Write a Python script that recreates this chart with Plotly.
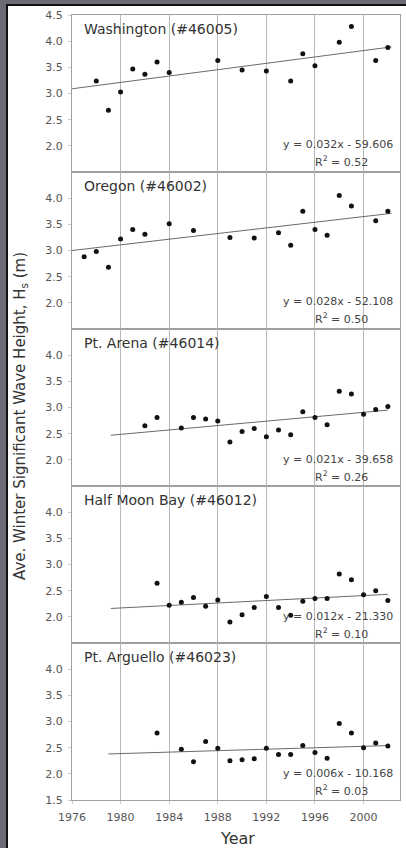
import plotly.graph_objects as go
from plotly.subplots import make_subplots

# ---------------- data ----------------
station_names = ["Washington (#46005)", "Oregon (#46002)", "Pt. Arena (#46014)",
                 "Half Moon Bay (#46012)", "Pt. Arguello (#46023)"]

wa_years = [1978, 1979, 1980, 1981, 1982, 1983, 1984, 1988, 1990, 1992, 1994, 1995, 1996, 1998, 1999, 2001, 2002]
wa_hs = [3.24, 2.68, 3.03, 3.47, 3.37, 3.60, 3.40, 3.63, 3.45, 3.43, 3.24, 3.76, 3.53, 3.98, 4.28, 3.63, 3.88]

or_years = [1977, 1978, 1979, 1980, 1981, 1982, 1984, 1986, 1989, 1991, 1993, 1994, 1995, 1996, 1997, 1998, 1999, 2001, 2002]
or_hs = [2.88, 2.98, 2.68, 3.22, 3.40, 3.31, 3.51, 3.38, 3.25, 3.24, 3.34, 3.10, 3.75, 3.40, 3.29, 4.05, 3.85, 3.57, 3.75]

pa_years = [1982, 1983, 1985, 1986, 1987, 1988, 1989, 1990, 1991, 1992, 1993, 1994, 1995, 1996, 1997, 1998, 1999, 2000, 2001, 2002]
pa_hs = [2.65, 2.81, 2.61, 2.81, 2.78, 2.74, 2.34, 2.54, 2.60, 2.44, 2.57, 2.48, 2.92, 2.81, 2.67, 3.31, 3.26, 2.87, 2.96, 3.02]

hmb_years = [1983, 1984, 1985, 1986, 1987, 1988, 1989, 1990, 1991, 1992, 1993, 1994, 1995, 1996, 1997, 1998, 1999, 2000, 2001, 2002]
hmb_hs = [2.64, 2.22, 2.28, 2.37, 2.20, 2.32, 1.90, 2.04, 2.18, 2.39, 2.18, 2.03, 2.30, 2.35, 2.35, 2.82, 2.71, 2.42, 2.50, 2.31]

parg_years = [1983, 1985, 1986, 1987, 1988, 1989, 1990, 1991, 1992, 1993, 1994, 1995, 1996, 1997, 1998, 1999, 2000, 2001, 2002]
parg_hs = [2.78, 2.47, 2.23, 2.62, 2.49, 2.25, 2.27, 2.29, 2.49, 2.37, 2.37, 2.54, 2.41, 2.30, 2.96, 2.78, 2.50, 2.59, 2.53]

# trend lines (end points)
wa_trend_x, wa_trend_y = [1976, 2002.3], [3.09, 3.89]
or_trend_x, or_trend_y = [1976, 2002.3], [3.00, 3.71]
pa_trend_x, pa_trend_y = [1979.2, 2002.0], [2.47, 2.95]
hmb_trend_x, hmb_trend_y = [1979.2, 2002.0], [2.16, 2.43]
parg_trend_x, parg_trend_y = [1979.0, 2002.0], [2.38, 2.54]

equations = ["y = 0.032x - 59.606", "y = 0.028x - 52.108", "y = 0.021x - 39.658",
             "y = 0.012x - 21.330", "y = 0.006x - 10.168"]
r_squared = ["0.52", "0.50", "0.26", "0.10", "0.03"]

x_ticks = [1976, 1980, 1984, 1988, 1992, 1996, 2000]
y_ticks_top = [2.0, 2.5, 3.0, 3.5, 4.0, 4.5]
y_ticks_mid = [2.0, 2.5, 3.0, 3.5, 4.0]
y_ticks_bottom = [1.5, 2.0, 2.5, 3.0, 3.5, 4.0]

# ---------------- figure ----------------
W, H = 406, 848
ML, MR, MT, MB = 72, 6, 15, 48
PW, PH = W - ML - MR, H - MT - MB

def px_x(px):
    return (px - ML) / PW

def px_y(py):
    return (H - MB - py) / PH

FONT = "DejaVu Sans"
series = [(wa_years, wa_hs, wa_trend_x, wa_trend_y),
          (or_years, or_hs, or_trend_x, or_trend_y),
          (pa_years, pa_hs, pa_trend_x, pa_trend_y),
          (hmb_years, hmb_hs, hmb_trend_x, hmb_trend_y),
          (parg_years, parg_hs, parg_trend_x, parg_trend_y)]
ytick_sets = [y_ticks_top, y_ticks_mid, y_ticks_mid, y_ticks_mid, y_ticks_bottom]

fig = make_subplots(rows=5, cols=1, shared_xaxes=True, vertical_spacing=0)

annotations = []
for i, (yrs, hs, tx, ty) in enumerate(series):
    row = i + 1
    fig.add_trace(go.Scatter(x=tx, y=ty, mode="lines",
                             line=dict(color="#6a6a6a", width=1), showlegend=False,
                             hoverinfo="skip"), row=row, col=1)
    fig.add_trace(go.Scatter(x=yrs, y=hs, mode="markers",
                             marker=dict(color="#111111", size=5), showlegend=False),
                  row=row, col=1)
    fig.update_yaxes(range=[1.5, 4.5], tickvals=ytick_sets[i], tickformat=".1f",
                     showgrid=False, zeroline=False, showline=True, mirror=True,
                     linecolor="#a0a0a0", linewidth=1, ticks="outside", ticklen=3,
                     tickcolor="#cccccc", ticklabelstandoff=3,
                     tickfont=dict(family=FONT, size=11, color="#555555"),
                     row=row, col=1)
    fig.update_xaxes(range=[1976, 2003], tickvals=x_ticks, showgrid=True,
                     gridcolor="#b8b8b8", gridwidth=1, zeroline=False, showline=True,
                     mirror=True, linecolor="#a0a0a0", linewidth=1,
                     ticks="outside" if row == 5 else "", ticklen=3, tickcolor="#cccccc",
                     ticklabelstandoff=4,
                     tickfont=dict(family=FONT, size=11, color="#555555"),
                     showticklabels=(row == 5), row=row, col=1)
    sfx = "" if row == 1 else str(row)
    annotations.append(dict(xref=f"x{sfx} domain", yref=f"y{sfx} domain",
                            x=px_x(82), y=1, yshift=-4, xanchor="left", yanchor="top",
                            text=station_names[i], showarrow=False,
                            font=dict(family=FONT, size=14, color="#333333")))
    annotations.append(dict(xref=f"x{sfx} domain", yref=f"y{sfx} domain",
                            x=px_x(395), y=0, yshift=27, xanchor="right", yanchor="middle",
                            text=equations[i], showarrow=False,
                            font=dict(family=FONT, size=11, color="#444444")))
    annotations.append(dict(xref=f"x{sfx} domain", yref=f"y{sfx} domain",
                            x=px_x(341), y=0, yshift=10, xanchor="center", yanchor="middle",
                            text=f"R<sup>2</sup> = {r_squared[i]}", showarrow=False,
                            font=dict(family=FONT, size=11, color="#444444")))

annotations.append(dict(xref="paper", yref="paper", x=px_x(20), y=px_y(416),
                        xanchor="center", yanchor="middle", textangle=-90,
                        text="Ave. Winter Significant Wave Height, H<sub>s</sub> (m)",
                        showarrow=False, font=dict(family=FONT, size=15, color="#333333")))
annotations.append(dict(xref="paper", yref="paper", x=px_x(237), y=px_y(838),
                        xanchor="center", yanchor="middle", text="Year",
                        showarrow=False, font=dict(family=FONT, size=16, color="#333333")))

fig.update_layout(
    width=W, height=H,
    margin=dict(l=ML, r=MR, t=MT, b=MB),
    paper_bgcolor="#6c6a76",
    plot_bgcolor="white",
    showlegend=False,
    annotations=annotations,
    shapes=[dict(type="rect", xref="paper", yref="paper", layer="below",
                 x0=px_x(7), x1=px_x(412), y0=px_y(852), y1=px_y(5),
                 fillcolor="white", line=dict(color="#111111", width=2))],
)

fig.write_html("out.html", config={"displayModeBar": False},
               post_script="document.body.style.margin='0';document.body.style.overflow='hidden';")
